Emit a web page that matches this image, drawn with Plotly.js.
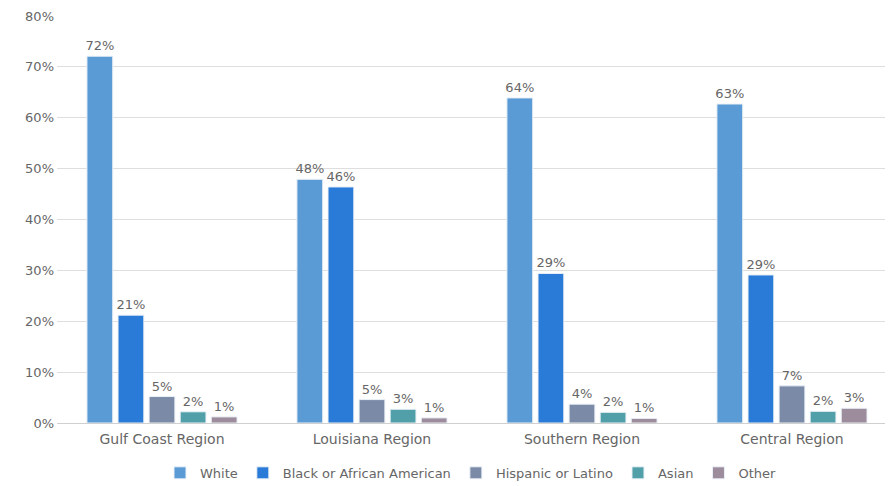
<!DOCTYPE html>
<html>
<head>
<meta charset="utf-8">
<script src="https://cdn.plot.ly/plotly-3.0.1.min.js"></script>
<style>html,body{margin:0;padding:0;background:#fff;overflow:hidden;}#chart{width:888px;height:486px;}</style>
</head>
<body>
<div id="chart"></div>
<script>
var regions = ["Gulf Coast Region", "Louisiana Region", "Southern Region", "Central Region"];
var seriesNames = ["White", "Black or African American", "Hispanic or Latino", "Asian", "Other"];
var white = [72.1, 47.9, 63.9, 62.7];
var black = [21.2, 46.4, 29.4, 29.1];
var hispanic = [5.2, 4.6, 3.7, 7.3];
var asian = [2.2, 2.7, 2.1, 2.3];
var other = [1.2, 1.0, 0.9, 2.9];
var tickVals = [0, 10, 20, 30, 40, 50, 60, 70, 80];
var tickText = ["0%", "10%", "20%", "30%", "40%", "50%", "60%", "70%", "80%"];

var values = [white, black, hispanic, asian, other];
var colors = ["#5b9bd5", "#2a7bd7", "#7b8aa6", "#51a0a9", "#9c8c9c"];
var fontFam = "DejaVu Sans, sans-serif";

var traces = seriesNames.map(function (n, i) {
  return {
    type: "bar",
    name: n,
    x: regions,
    y: values[i],
    marker: { color: colors[i], line: { color: "#eaf0f7", width: 1 } },
    texttemplate: "%{y:.0f}%",
    textposition: "outside",
    constraintext: "none",
    cliponaxis: false,
    textfont: { family: fontFam, size: 13, color: "#666666" },
    hoverinfo: "x+y"
  };
});

var layout = {
  width: 888,
  height: 486,
  margin: { l: 57, r: 3, t: 16, b: 63, autoexpand: false },
  paper_bgcolor: "#ffffff",
  plot_bgcolor: "#ffffff",
  barmode: "group",
  bargap: 0.26,
  bargroupgap: 0.17,
  font: { family: fontFam, color: "#666666" },
  xaxis: {
    type: "category",
    range: [-0.5, 3.443],
    showgrid: false,
    showline: false,
    ticks: "",
    ticklabelstandoff: 6,
    automargin: false,
    tickfont: { family: fontFam, size: 14, color: "#666666" }
  },
  yaxis: {
    range: [0, 80],
    tickmode: "array",
    tickvals: tickVals,
    ticktext: tickText,
    showgrid: true,
    gridcolor: "#dedede",
    gridwidth: 1,
    zeroline: true,
    zerolinecolor: "#d0d0d0",
    zerolinewidth: 1,
    ticks: "",
    ticklabelstandoff: 2,
    automargin: false,
    tickfont: { family: fontFam, size: 13, color: "#666666" }
  },
  showlegend: true,
  legend: {
    orientation: "h",
    x: 0.5,
    xanchor: "center",
    yref: "container",
    y: 0.027,
    yanchor: "middle",
    font: { family: fontFam, size: 13, color: "#666666" },
    itemwidth: 30,
    tracegroupgap: 0
  }
};

Plotly.newPlot("chart", traces, layout, { displayModeBar: false, staticPlot: true });
</script>
</body>
</html>
